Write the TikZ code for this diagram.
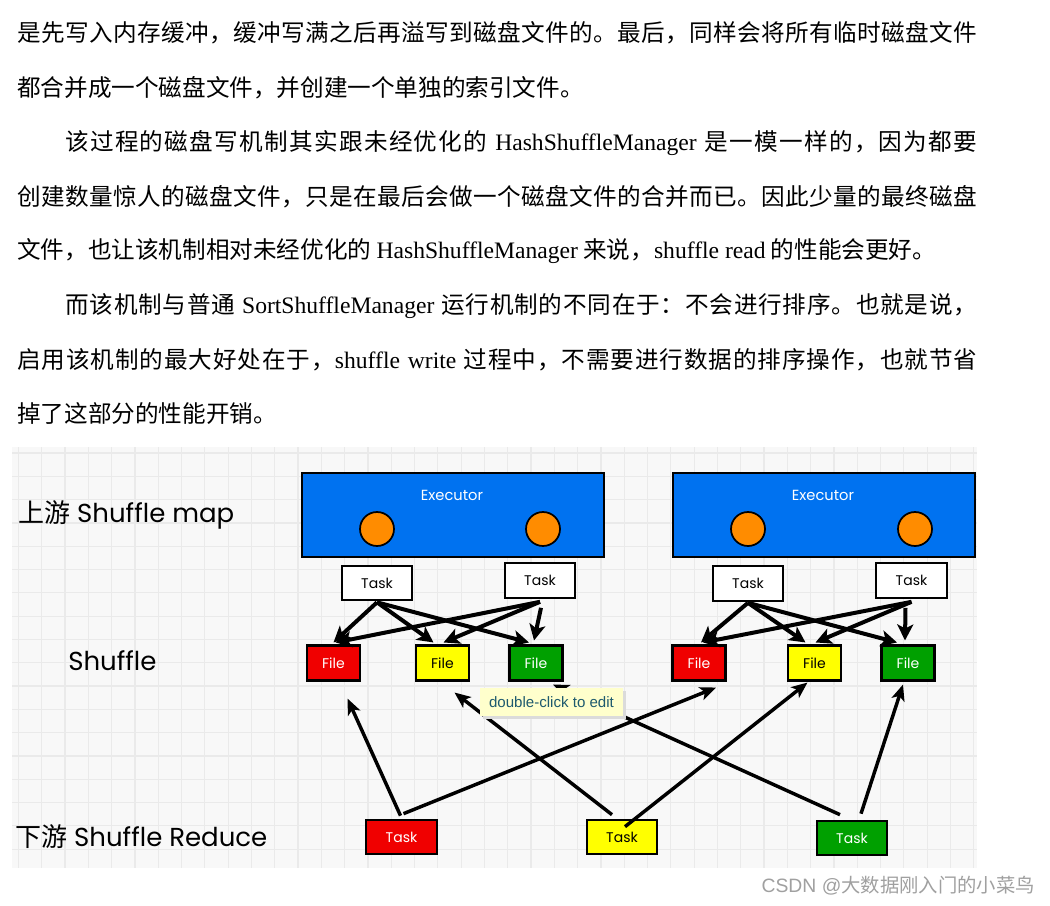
\documentclass[tikz,border=0pt]{standalone}
\usepackage{fontspec}
\setmainfont{Liberation Serif}
\newfontfamily\cjk{Noto Sans CJK SC}
\newfontfamily\sketch{Poppins}
\newfontfamily\tipfont{Liberation Sans}
\usetikzlibrary{arrows.meta,calc}
% stretchable glue between CJK characters (for justified lines)
\XeTeXinterchartokenstate=1
\newXeTeXintercharclass\cjkcls
\count255="3000 \loop\ifnum\count255<"3040 \XeTeXcharclass\count255=\cjkcls \advance\count255 1 \repeat
\count255="4E00 \loop\ifnum\count255<"A000 \XeTeXcharclass\count255=\cjkcls \advance\count255 1 \repeat
\count255="FF00 \loop\ifnum\count255<"FFF0 \XeTeXcharclass\count255=\cjkcls \advance\count255 1 \repeat
\XeTeXinterchartoks\cjkcls\cjkcls={\hskip0pt plus 1pt\relax}
\definecolor{execblue}{RGB}{0,114,240}
\definecolor{ballorange}{RGB}{255,140,0}
\definecolor{filered}{RGB}{240,0,0}
\definecolor{fileyellow}{RGB}{255,255,0}
\definecolor{filegreen}{RGB}{0,160,0}
\definecolor{gridbg}{RGB}{248,248,248}
\definecolor{gridline}{RGB}{234,234,234}
\definecolor{tipfill}{RGB}{255,255,204}
\definecolor{tiptext}{RGB}{30,90,110}
\definecolor{wmgray}{RGB}{160,160,160}
\newcommand\jline[2]{\hbox to #1{#2}}
\begin{document}
\begin{tikzpicture}[x=0.75pt,y=-0.75pt,
  para/.style={inner sep=0pt,anchor=west,font=\cjk\fontsize{17.7}{20}\selectfont},
  lab/.style={inner sep=0pt,anchor=west,font=\sketch\fontsize{19.5}{23}\selectfont},
  exec/.style={draw=black,line width=1.5pt,fill=execblue,minimum width=226.5pt,minimum height=63pt,inner sep=0pt},
  ball/.style={circle,draw=black,line width=1.3pt,fill=ballorange,minimum size=25.5pt,inner sep=0pt},
  task/.style={draw=black,line width=1.5pt,fill=white,minimum width=53pt,minimum height=26pt,inner sep=0pt,font=\sketch\fontsize{10.5}{12}\selectfont},
  filebox/.style={draw=black,line width=1.8pt,minimum width=39.5pt,minimum height=26pt,inner sep=0pt,font=\sketch\fontsize{10.5}{12}\selectfont},
  toparrow/.style={line width=3pt,-{Stealth[length=12pt,width=12pt,inset=3pt]}},
  botarrow/.style={line width=2.6pt,-{Stealth[length=12pt,width=10pt,inset=3pt]}},
]
\useasboundingbox (0,0) rectangle (1050,906);
\fill[white] (0,0) rectangle (1050,906);

% ---------- paragraph text ----------
\node[para] (l1) at (17,33) {\jline{720pt}{是先写入内存缓冲，缓冲写满之后再溢写到磁盘文件的。最后，同样会将所有临时磁盘文件}};
\node[para] (l2) at (17,88) {都合并成一个磁盘文件，并创建一个单独的索引文件。};
\node[para] (l3) at (65,143) {\jline{684pt}{该过程的磁盘写机制其实跟未经优化的 {\rmfamily HashShuffleManager} 是一模一样的，因为都要}};
\node[para] (l4) at (17,197) {\jline{720pt}{创建数量惊人的磁盘文件，只是在最后会做一个磁盘文件的合并而已。因此少量的最终磁盘}};
\node[para] (l5) at (17,251) {文件，也让该机制相对未经优化的 {\rmfamily HashShuffleManager} 来说，{\rmfamily shuffle read} 的性能会更好。};
\node[para] (l6) at (65,306) {\jline{684pt}{而该机制与普通 {\rmfamily SortShuffleManager} 运行机制的不同在于：不会进行排序。也就是说，}};
\node[para] (l7) at (17,360) {\jline{720pt}{启用该机制的最大好处在于，{\rmfamily shuffle write} 过程中，不需要进行数据的排序操作，也就节省}};
\node[para] (l8) at (17,414) {掉了这部分的性能开销。};

% ---------- diagram background ----------
\fill[gridbg] (12,447) rectangle (977,868);
\foreach \i in {0,...,41} \draw[gridline,line width=0.9pt] ({18.4+23.3*\i},447) -- ({18.4+23.3*\i},868);
\foreach \j in {0,...,17} \draw[gridline,line width=0.9pt] (12,{453+23.3*\j}) -- (977,{453+23.3*\j});

% ---------- labels ----------
\node[lab] (lmap) at (18,515) {{\cjk 上游} Shuffle map};
\node[lab] (lshuf) at (68,661) {Shuffle};
\node[lab] (lred) at (15,837) {{\cjk 下游} Shuffle Reduce};

% ---------- executors ----------
\node[exec] (e1) at (452.5,514.5) {};
\node[exec] (e2) at (823.5,514.5) {};
\node[text=white,font=\sketch\fontsize{11}{13}\selectfont] (e1t) at (452,495) {Executor};
\node[text=white,font=\sketch\fontsize{11}{13}\selectfont] (e2t) at (823,495) {Executor};
\node[ball] (c1) at (377,529) {};
\node[ball] (c2) at (543,529) {};
\node[ball] (c3) at (748,529) {};
\node[ball] (c4) at (915,529) {};

% ---------- map tasks ----------
\node[task] (t1) at (377,583) {Task};
\node[task] (t2) at (540,580.5) {Task};
\node[task] (t3) at (748,583.5) {Task};
\node[task] (t4) at (911.5,580.5) {Task};

% ---------- files ----------
\node[filebox,fill=filered,text=white] (f1) at (333.5,663) {File};
\node[filebox,fill=fileyellow,text=black] (f2) at (442.5,663) {File};
\node[filebox,fill=filegreen,text=white] (f3) at (536,663) {File};
\node[filebox,fill=filered,text=white] (f4) at (699,663) {File};
\node[filebox,fill=fileyellow,text=black] (f5) at (814.5,663) {File};
\node[filebox,fill=filegreen,text=white] (f6) at (908,663) {File};

% ---------- map arrows ----------
\draw[toparrow] ($(t1.south)+(0,1)$) -- ($(f1.north)+(0,-2)$);
\draw[toparrow] ($(t1.south)+(0,1)$) -- ($(f2.north)+(-9,-2)$);
\draw[toparrow] ($(t1.south)+(0,1)$) -- ($(f3.north)+(-7,-2)$);
\draw[toparrow] ($(t2.south)+(0,3)$) -- ($(f1.north)+(2,-2)$);
\draw[toparrow] ($(t2.south)+(0,3)$) -- ($(f2.north)+(1,-2)$);
\draw[toparrow] ($(t2.south)+(1,9)$) -- ($(f3.north)+(-2,-4)$);
\draw[toparrow] ($(t3.south)+(0,1)$) -- ($(f4.north)+(2,-2)$);
\draw[toparrow] ($(t3.south)+(0,1)$) -- ($(f5.north)+(-9,-2)$);
\draw[toparrow] ($(t3.south)+(0,1)$) -- ($(f6.north)+(-11,-2)$);
\draw[toparrow] ($(t4.south)+(0,3)$) -- ($(f4.north)+(4,-2)$);
\draw[toparrow] ($(t4.south)+(0,3)$) -- ($(f5.north)+(1,-2)$);
\draw[toparrow] ($(t4.south)+(-6,9)$) -- ($(f6.north)+(-3,-4)$);

% ---------- reduce tasks ----------
\node[task,fill=filered,text=white] (r1) at (401.5,837) {Task};
\node[task,fill=fileyellow,text=black] (r2) at (622,837) {Task};
\node[task,fill=filegreen,text=white] (r3) at (852,838) {Task};

% ---------- reduce arrows ----------
\draw[botarrow] ($(r1.north)+(-1,-3)$) -- ($(f1.south)+(14,17)$);
\draw[botarrow] ($(r1.north)+(2,-5)$) -- ($(f4.south)+(17,6)$);
\draw[botarrow] ($(r2.north)+(-10,-4)$) -- ($(f2.south)+(12,11)$);
\draw[botarrow] ($(r2.north)+(3,8)$) -- ($(f5.south)+(-7,1)$);
\draw[botarrow] ($(r3.north)+(-12,-5)$) -- ($(f3.south)+(17,3)$);
\draw[botarrow] ($(r3.north)+(9,-6)$) -- ($(f6.south)+(-5,3)$);

% ---------- tooltip ----------
\fill[black!14] (483,691) rectangle (626,719);
\node[fill=tipfill,minimum width=107pt,minimum height=21pt,inner sep=0pt,text=tiptext,font=\tipfont\fontsize{11.3}{13}\selectfont] (tip) at (551.5,702) {double-click to edit};

% ---------- watermark ----------
\node[anchor=east,inner sep=0pt,text=wmgray,font=\tipfont\fontsize{14.5}{17}\selectfont] (wm) at (1035,886) {CSDN @{\cjk 大数据刚入门的小菜鸟}};
\end{tikzpicture}
\end{document}
